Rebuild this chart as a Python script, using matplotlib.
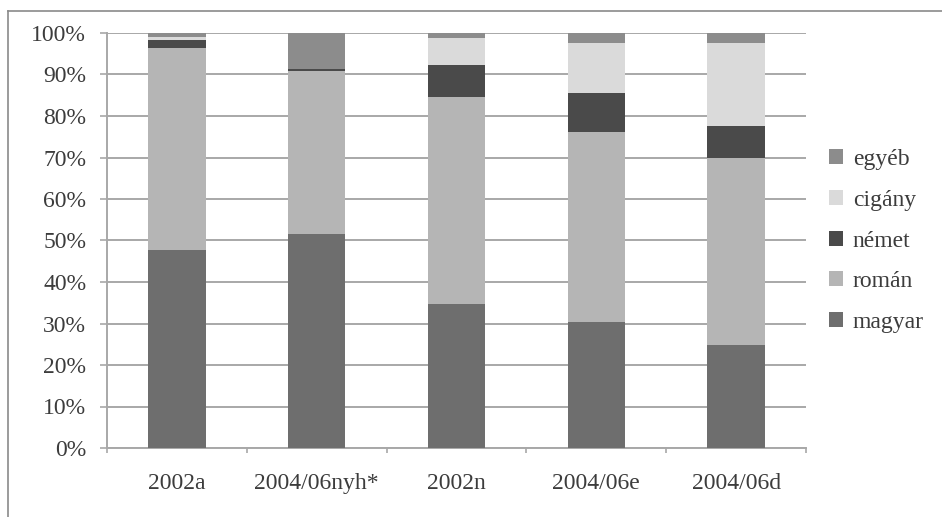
import numpy as np
import matplotlib
import matplotlib.pyplot as plt
from matplotlib.lines import Line2D
from matplotlib.ticker import PercentFormatter

matplotlib.use('Agg')

# categories and shares (%)
groups = ["2002a", "2004/06nyh*", "2002n", "2004/06e", "2004/06d"]
magyar = [47.8, 51.6, 34.6, 30.4, 24.8]
roman = [48.5, 39.3, 50.0, 45.7, 45.2]
nemet = [2.0, 0.5, 7.8, 9.4, 7.6]
cigany = [0.8, 0.0, 6.4, 12.2, 20.1]
egyeb = [0.9, 8.6, 1.2, 2.3, 2.3]

series = [("magyar", magyar, "#6e6e6e"),
          ("román", roman, "#b5b5b5"),
          ("német", nemet, "#4a4a4a"),
          ("cigány", cigany, "#dadada"),
          ("egyéb", egyeb, "#8c8c8c")]

plt.rcParams['font.family'] = ['Liberation Serif', 'DejaVu Serif']
txt = "#3c3c3c"
grid_c = "#a8a8a8"

fig = plt.figure(figsize=(9.42, 5.17), dpi=100)
ax = fig.add_axes([107/942, 1 - 448/517, (806 - 107)/942, (448 - 33)/517])

x = np.arange(len(groups))
bottom = np.zeros(len(groups))
for name, vals, col in series:
    vals = np.array(vals)
    ax.bar(x, vals, width=0.41, bottom=bottom, color=col, label=name, zorder=3)
    bottom += vals

ax.set_xlim(-0.5, len(groups) - 0.5)
ax.set_ylim(0, 100)
ax.set_yticks(np.arange(0, 101, 10))
ax.yaxis.set_major_formatter(PercentFormatter(decimals=0))
ax.yaxis.grid(True, color=grid_c, linewidth=1.4, zorder=0)

ax.set_xticks(x)
ax.set_xticklabels(groups)
ax.set_xticks(np.arange(-0.5, len(groups), 1), minor=True)
ax.tick_params(axis='x', which='major', length=0, pad=18, labelsize=17, colors=txt)
ax.tick_params(axis='x', which='minor', length=3.5, width=1.2, color=grid_c, direction='out')
ax.tick_params(axis='y', length=5, width=1.2, color=grid_c, pad=10, labelsize=17, labelcolor=txt)

for s in ['top', 'right']:
    ax.spines[s].set_visible(False)
for s in ['left', 'bottom']:
    ax.spines[s].set_color(grid_c)
    ax.spines[s].set_linewidth(1.4)

handles, labels = ax.get_legend_handles_labels()
leg = ax.legend(handles[::-1], labels[::-1], loc='center left',
                bbox_to_anchor=(808/942, 1 - 241/517), bbox_transform=fig.transFigure,
                frameon=False, fontsize=17, handlelength=0.6, handleheight=0.6,
                handletextpad=0.4, labelspacing=0.83)
for t in leg.get_texts():
    t.set_color(txt)

# outer chart frame (only left and top edges visible in the scan)
fig.add_artist(Line2D([8/942, 8/942], [0, 1 - 11/517], color="#8a8a8a", linewidth=1.2))
fig.add_artist(Line2D([8/942, 1], [1 - 11/517, 1 - 11/517], color="#8a8a8a", linewidth=1.2))

fig.savefig("out.png", dpi=100)
